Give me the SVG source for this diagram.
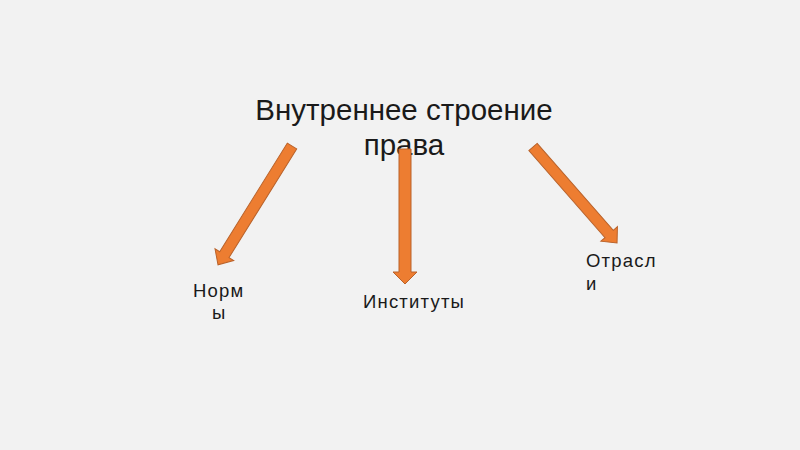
<svg xmlns="http://www.w3.org/2000/svg" width="800" height="450" viewBox="0 0 800 450">
<style>
.t{font-family:"Liberation Sans",Arial,sans-serif;fill:#1a1a1a}
.h{text-anchor:middle;font-size:29.5px}
.l{font-size:18.5px;letter-spacing:1.2px}
.a{fill:#ed7d31;stroke:#b9622a;stroke-width:1}
</style>
<rect width="800" height="450" fill="#f2f2f2"/>
<g id="title">
<text class="t h" x="404" y="120">Внутреннее строение</text>
<text class="t h" x="404" y="155">права</text>
</g>
<g id="connectors">
<path class="a" transform="translate(292,146) rotate(121.9)" d="M0,-5.5 H128 V-11 L140,0 L128,11 V5.5 H0 Z"/>
<path class="a" transform="translate(405,149) rotate(90)" d="M0,-6 H123 V-12 L135,0 L123,12 V6 H0 Z"/>
<path class="a" transform="translate(533,147) rotate(48.8)" d="M0,-5.5 H115.6 V-11 L127.6,0 L115.6,11 V5.5 H0 Z"/>
</g>
<g id="n1">
<text class="t l" x="193" y="297">Норм</text>
<text class="t l" x="212" y="319">ы</text>
</g>
<g id="n2">
<text class="t l" x="363" y="308">Институты</text>
</g>
<g id="n3">
<text class="t l" x="586" y="267">Отрасл</text>
<text class="t l" x="586" y="290">и</text>
</g>
</svg>
